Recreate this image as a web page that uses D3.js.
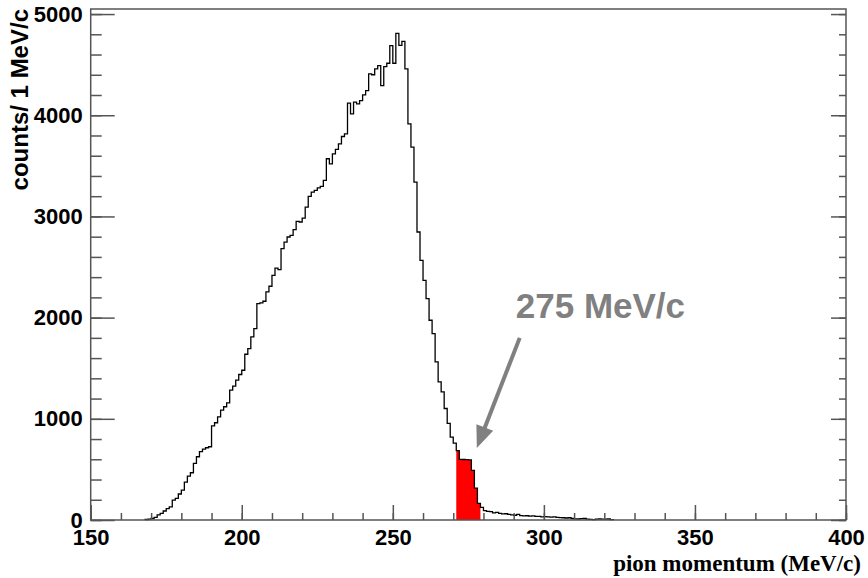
<!DOCTYPE html>
<html>
<head>
<meta charset="utf-8">
<script src="https://cdn.jsdelivr.net/npm/d3@7"></script>
<style>
  body { margin: 0; background: #fff; }
  svg { display: block; }
</style>
</head>
<body>
<div id="main"></div>
<script>
// pion momentum histogram, 1 MeV/c bins, first bin starts at 168
var firstBin = 168;
var counts = [
  5, 8, 15, 26, 50, 66, 89, 112, 130, 197,          // 168-177
  214, 257, 296, 375, 434, 467, 560, 625, 675, 700,  // 178-187
  714, 724, 931, 961, 1020, 1086, 1119, 1158, 1283, 1323, // 188-197
  1382, 1438, 1480, 1638, 1694, 1810, 1892, 2139, 2145, 2162, // 198-207
  2254, 2310, 2418, 2490, 2474, 2681, 2747, 2797, 2813, 2869, // 208-217
  2951, 2945, 2984, 3093, 3198, 3241, 3257, 3283, 3297, 3356, // 218-227
  3570, 3520, 3619, 3662, 3718, 3790, 3816, 4119, 4014, 4129, // 228-237
  4113, 4145, 4201, 4244, 4409, 4400, 4458, 4491, 4293, 4481, // 238-247
  4514, 4688, 4514, 4810, 4690, 4731, 4458, 3915, 3685, 3340, // 248-257
  2846, 2566, 2369, 2188, 1974, 1842, 1563, 1365, 1267, 1102, // 258-267
  954, 820, 760, 685, 600, 598, 596, 594, 490, 315,  // 268-277
  165, 125, 92, 85, 82, 70, 76, 66, 60, 62,          // 278-287
  55, 50, 47, 55, 44, 40, 42, 38, 40, 35,            // 288-297
  36, 30, 34, 30, 28, 30, 25, 24, 22, 20,            // 298-307
  22, 15, 12, 10, 14, 15, 8, 6, 4, 8,                // 308-317
  10, 9, 9, 10, 4                                    // 318-322
];
// the highlighted slice (bin lower edges, inclusive)
var selLo = 271, selHi = 278;

var xMajor = [150, 200, 250, 300, 350, 400];
var xMinor = d3.range(150, 401, 10);
var yMajor = [0, 1000, 2000, 3000, 4000, 5000];
var yMinor = d3.range(0, 5001, 200);

var noteText = "275 MeV/c";
var notePos = [290.7, 2000];       // text anchor (MeV/c, counts)
var arrowFrom = [292.0, 1800];
var arrowTo = [277.8, 711];

var W = 868, H = 578;
var svg = d3.select("#main").append("svg")
  .attr("width", W)
  .attr("height", H);

var x = d3.scaleLinear().domain([150, 400]).range([90.7, 846]);
var y = d3.scaleLinear().domain([0, 5050]).range([520, 9]);

var bins = counts.map(function(c, i) { return { lo: firstBin + i, hi: firstBin + i + 1, c: c }; });

// step points for the outline
var pts = [[bins[0].lo, 0]];
bins.forEach(function(b) { pts.push([b.lo, b.c]); pts.push([b.hi, b.c]); });
pts.push([bins[bins.length - 1].hi, 0]);

var selPts = [];
bins.filter(function(b) { return b.lo >= selLo && b.lo <= selHi; })
  .forEach(function(b) { selPts.push([b.lo, b.c]); selPts.push([b.hi, b.c]); });

var area = d3.area()
  .x(function(d) { return x(d[0]); })
  .y0(y(0))
  .y1(function(d) { return y(d[1]); });

svg.append("path")
  .attr("d", area(selPts))
  .attr("fill", "#ff0000")
  .attr("stroke", "none");

var line = d3.line()
  .x(function(d) { return x(d[0]); })
  .y(function(d) { return y(d[1]); });

svg.append("path")
  .attr("d", line(pts))
  .attr("fill", "none")
  .attr("stroke", "#000")
  .attr("stroke-width", 1.3);

// axes, ticks drawn inward
var frameCol = "#555";
function styleAxis(g) {
  g.select(".domain").remove();
  g.selectAll(".tick line").attr("stroke", frameCol).attr("stroke-width", 1.5);
  g.selectAll("text")
    .attr("fill", "#000")
    .style("font-family", "'Liberation Sans', Arial, sans-serif")
    .style("font-weight", "bold")
    .style("font-size", "22px");
}

svg.append("g")
  .attr("transform", "translate(0," + y(0) + ")")
  .call(d3.axisBottom(x).tickValues(xMinor).tickSize(-7).tickFormat(""))
  .call(styleAxis);
svg.append("g")
  .attr("transform", "translate(0," + y(0) + ")")
  .call(d3.axisBottom(x).tickValues(xMajor).tickSize(-15).tickPadding(9).tickFormat(d3.format("d")))
  .call(styleAxis);

svg.append("g")
  .attr("transform", "translate(" + x(150) + ",0)")
  .call(d3.axisLeft(y).tickValues(yMinor).tickSize(-11).tickFormat(""))
  .call(styleAxis);
svg.append("g")
  .attr("transform", "translate(" + x(150) + ",0)")
  .call(d3.axisLeft(y).tickValues(yMajor).tickSize(-24).tickPadding(8).tickFormat(d3.format("d")))
  .call(styleAxis);

svg.append("g")
  .attr("transform", "translate(" + x(400) + ",0)")
  .call(d3.axisRight(y).tickValues(yMinor).tickSize(-7).tickFormat(""))
  .call(styleAxis);
svg.append("g")
  .attr("transform", "translate(" + x(400) + ",0)")
  .call(d3.axisRight(y).tickValues(yMajor).tickSize(-15).tickFormat(""))
  .call(styleAxis);

// frame
svg.append("rect")
  .attr("x", x(150))
  .attr("y", y(5050))
  .attr("width", x(400) - x(150))
  .attr("height", y(0) - y(5050))
  .attr("fill", "none")
  .attr("stroke", frameCol)
  .attr("stroke-width", 1.5);

// axis titles
svg.append("text")
  .attr("transform", "translate(28," + y(5050) + ") rotate(-90)")
  .attr("text-anchor", "end")
  .style("font-family", "'Liberation Sans', Arial, sans-serif")
  .style("font-weight", "bold")
  .style("font-size", "24px")
  .text("counts/ 1 MeV/c");

svg.append("text")
  .attr("x", 861)
  .attr("y", 571)
  .attr("text-anchor", "end")
  .style("font-family", "'Liberation Serif', 'Times New Roman', serif")
  .style("font-weight", "bold")
  .style("font-size", "23px")
  .text("pion momentum (MeV/c)");

// annotation
var noteCol = "#808080";
svg.append("text")
  .attr("x", x(notePos[0]))
  .attr("y", y(notePos[1]))
  .attr("fill", noteCol)
  .style("font-family", "'Liberation Sans', Arial, sans-serif")
  .style("font-weight", "bold")
  .style("font-size", "35px")
  .text(noteText);

var ax0 = x(arrowFrom[0]), ay0 = y(arrowFrom[1]);
var ax1 = x(arrowTo[0]), ay1 = y(arrowTo[1]);
var len = Math.hypot(ax1 - ax0, ay1 - ay0);
var ux = (ax1 - ax0) / len, uy = (ay1 - ay0) / len;
var headL = 22, headW = 9;
var bx = ax1 - ux * headL, by = ay1 - uy * headL;

svg.append("line")
  .attr("x1", ax0).attr("y1", ay0)
  .attr("x2", bx + ux * 2).attr("y2", by + uy * 2)
  .attr("stroke", noteCol)
  .attr("stroke-width", 4);

svg.append("path")
  .attr("d", "M" + ax1 + "," + ay1 +
    "L" + (bx - uy * headW) + "," + (by + ux * headW) +
    "L" + (bx + uy * headW) + "," + (by - ux * headW) + "Z")
  .attr("fill", noteCol);
</script>
</body>
</html>
